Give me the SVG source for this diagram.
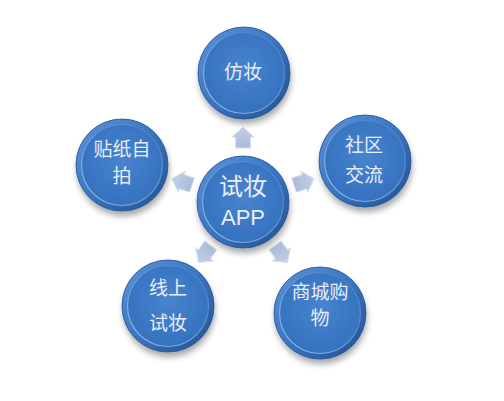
<svg xmlns="http://www.w3.org/2000/svg" width="504" height="401" viewBox="0 0 504 401">
<defs>
<radialGradient id="face" cx="50%" cy="45%" r="55%">
<stop offset="0" stop-color="#4784cf"/>
<stop offset="1" stop-color="#336fbc"/>
</radialGradient>
<linearGradient id="rim" x1="0" y1="0" x2="1" y2="1">
<stop offset="0" stop-color="#5b93d8"/>
<stop offset="0.5" stop-color="#3a74c0"/>
<stop offset="1" stop-color="#24528f"/>
</linearGradient>
<linearGradient id="hl" x1="1" y1="0" x2="0" y2="1">
<stop offset="0" stop-color="#7fa9e0" stop-opacity="0.2"/>
<stop offset="1" stop-color="#a9c8f0" stop-opacity="0.9"/>
</linearGradient>
<linearGradient id="arr" x1="0" y1="0" x2="0" y2="1">
<stop offset="0" stop-color="#c3d0e6"/>
<stop offset="1" stop-color="#a9bbd9"/>
</linearGradient>
<filter id="sh" x="-30%" y="-30%" width="160%" height="170%">
<feGaussianBlur in="SourceAlpha" stdDeviation="3"/>
<feOffset dx="1" dy="5" result="b"/>
<feComponentTransfer><feFuncA type="linear" slope="0.35"/></feComponentTransfer>
<feMerge><feMergeNode/><feMergeNode in="SourceGraphic"/></feMerge>
</filter>
<g id="ball">
<circle r="46" fill="url(#face)" filter="url(#sh)"/>
<circle r="43.5" fill="none" stroke="url(#rim)" stroke-width="5"/>
<circle r="40.5" fill="none" stroke="url(#hl)" stroke-width="1.2"/>
<circle r="46" fill="none" stroke="#2a5a9c" stroke-width="0.8"/>
</g>
<path id="arrow" d="M0,-11 L11,-1 L7.5,-1 L7.5,10 L-7.5,10 L-7.5,-1 L-11,-1 Z"/>
</defs>
<style>
.t{font-family:"Noto Sans CJK SC","Liberation Sans",sans-serif;fill:#e8eef7;text-anchor:middle;font-size:19px}
.big{font-size:24px}
.app{font-family:"Liberation Sans","Noto Sans CJK SC",sans-serif;font-size:22px}
.a{fill:url(#arr);stroke:#d6e0ef;stroke-width:1}
</style>
<g id="connectors">
<use href="#arrow" class="a" transform="translate(243,138)"/>
<use href="#arrow" class="a" transform="translate(303.5,182) rotate(72)"/>
<use href="#arrow" class="a" transform="translate(281,253.5) rotate(144)"/>
<use href="#arrow" class="a" transform="translate(205,253.5) rotate(216)"/>
<use href="#arrow" class="a" transform="translate(182.5,182) rotate(288)"/>
</g>
<g id="center">
<use href="#ball" transform="translate(243,202)"/>
<text class="t big" x="243" y="195">试妆</text>
<text class="t app" x="243" y="225">APP</text>
</g>
<g id="n-top">
<use href="#ball" transform="translate(244,73)"/>
<text class="t" x="243" y="79">仿妆</text>
</g>
<g id="n-right">
<use href="#ball" transform="translate(365,161)"/>
<text class="t" x="364" y="152">社区</text>
<text class="t" x="364" y="182">交流</text>
</g>
<g id="n-bottomright">
<use href="#ball" transform="translate(320,313)"/>
<text class="t" x="320" y="299">商城购</text>
<text class="t" x="320" y="325">物</text>
</g>
<g id="n-bottomleft">
<use href="#ball" transform="translate(168,306)"/>
<text class="t" x="168" y="295">线上</text>
<text class="t" x="168" y="330">试妆</text>
</g>
<g id="n-left">
<use href="#ball" transform="translate(122,165)"/>
<text class="t" x="122" y="156">贴纸自</text>
<text class="t" x="122" y="183">拍</text>
</g>
</svg>
